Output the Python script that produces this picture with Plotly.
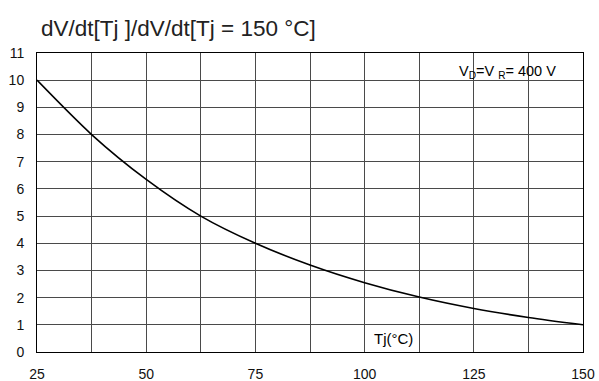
import plotly.graph_objects as go

# Junction temperature (°C) and normalised dV/dt ratio
tj = [25, 37.5, 50, 62.5, 75, 87.5, 100, 112.5, 125, 137.5, 150]
ratio = [10.0, 8.0, 6.35, 5.0, 4.0, 3.2, 2.55, 2.02, 1.6, 1.27, 1.0]

x_ticks = [25, 50, 75, 100, 125, 150]
y_ticks = list(range(0, 12))

font_family = "Liberation Sans, Arial, sans-serif"

fig = go.Figure()
fig.add_trace(go.Scatter(
    x=tj, y=ratio, mode="lines",
    line=dict(color="black", width=1.6, shape="spline", smoothing=0.8),
    hoverinfo="skip", showlegend=False,
))

grid_color = "#4a4a4a"
fig.update_xaxes(
    range=[25, 150], tickmode="array", tickvals=x_ticks,
    ticktext=[str(v) for v in x_ticks], automargin=False,
    showgrid=True, gridcolor=grid_color, gridwidth=1,
    minor=dict(dtick=12.5, tick0=25, showgrid=True, gridcolor=grid_color, gridwidth=1),
    zeroline=False, showline=True, linecolor="black", linewidth=1, mirror=True,
    ticks="outside", ticklen=9, tickcolor="rgba(0,0,0,0)",
    tickfont=dict(size=14, color="#111", family=font_family),
)
fig.update_yaxes(
    range=[0, 11], tickmode="array", tickvals=y_ticks, automargin=False,
    showgrid=True, gridcolor=grid_color, gridwidth=1,
    zeroline=False, showline=True, linecolor="black", linewidth=1, mirror=True,
    ticks="outside", ticklen=9, tickcolor="rgba(0,0,0,0)",
    tickfont=dict(size=14, color="#111", family=font_family),
)

fig.add_annotation(
    x=0.0, y=1.0, xref="paper", yref="paper", xanchor="left", yanchor="middle",
    xshift=2, yshift=25,
    text="dV/dt[Tj ]/dV/dt[Tj = 150 °C]", showarrow=False,
    font=dict(size=22.5, color="#222", family=font_family),
)
fig.add_annotation(
    x=150, y=10.3, xanchor="right", yanchor="middle", xshift=-25,
    text="V<sub>D</sub>=V <sub>R</sub>= 400 V", showarrow=False,
    font=dict(size=14.5, color="black", family=font_family),
)
fig.add_annotation(
    x=112.5, y=0.5, xanchor="center", yanchor="middle", xshift=-26,
    text="Tj(°C)", showarrow=False,
    font=dict(size=15, color="black", family=font_family),
)

fig.update_layout(
    width=599, height=381,
    margin=dict(l=37, r=16, t=53, b=29),
    paper_bgcolor="white", plot_bgcolor="white",
    font=dict(family=font_family),
)

fig.write_html("out.html")
